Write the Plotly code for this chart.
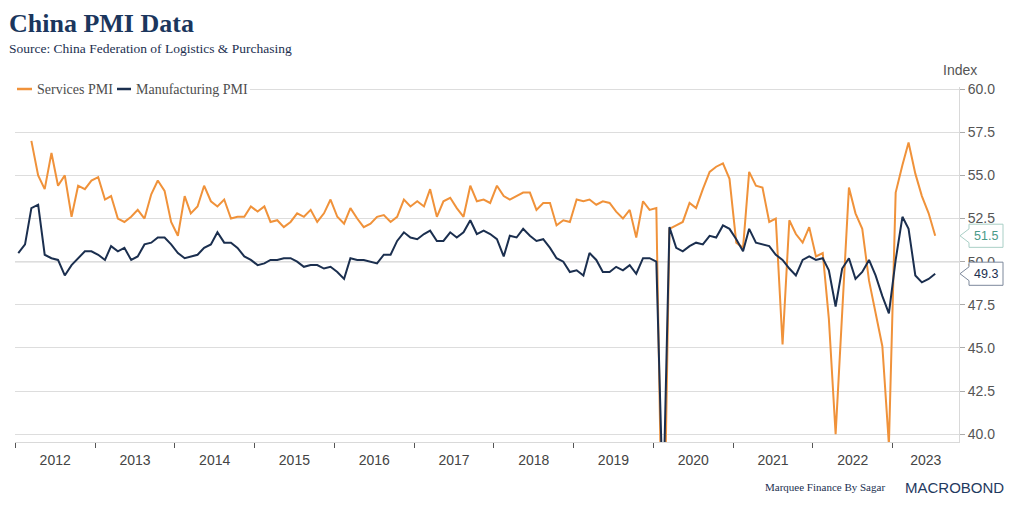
import pandas as pd
import plotly.graph_objects as go

# ---------------- data ----------------
months = pd.date_range("2012-01-01", "2023-07-01", freq="MS") + pd.Timedelta(days=14)

manufacturing_pmi = [
    50.5, 51.0, 53.1, 53.3, 50.4, 50.2, 50.1, 49.2, 49.8, 50.2, 50.6, 50.6,  # 2012
    50.4, 50.1, 50.9, 50.6, 50.8, 50.1, 50.3, 51.0, 51.1, 51.4, 51.4, 51.0,  # 2013
    50.5, 50.2, 50.3, 50.4, 50.8, 51.0, 51.7, 51.1, 51.1, 50.8, 50.3, 50.1,  # 2014
    49.8, 49.9, 50.1, 50.1, 50.2, 50.2, 50.0, 49.7, 49.8, 49.8, 49.6, 49.7,  # 2015
    49.4, 49.0, 50.2, 50.1, 50.1, 50.0, 49.9, 50.4, 50.4, 51.2, 51.7, 51.4,  # 2016
    51.3, 51.6, 51.8, 51.2, 51.2, 51.7, 51.4, 51.7, 52.4, 51.6, 51.8, 51.6,  # 2017
    51.3, 50.3, 51.5, 51.4, 51.9, 51.5, 51.2, 51.3, 50.8, 50.2, 50.0, 49.4,  # 2018
    49.5, 49.2, 50.5, 50.1, 49.4, 49.4, 49.7, 49.5, 49.8, 49.3, 50.2, 50.2,  # 2019
    50.0, 35.7, 52.0, 50.8, 50.6, 50.9, 51.1, 51.0, 51.5, 51.4, 52.1, 51.9,  # 2020
    51.3, 50.6, 51.9, 51.1, 51.0, 50.9, 50.4, 50.1, 49.6, 49.2, 50.1, 50.3,  # 2021
    50.1, 50.2, 49.5, 47.4, 49.6, 50.2, 49.0, 49.4, 50.1, 49.2, 48.0, 47.0,  # 2022
    50.1, 52.6, 51.9, 49.2, 48.8, 49.0, 49.3,                                # 2023
]

services_pmi = [
    None, None, 57.0, 55.0, 54.2, 56.3, 54.4, 55.0, 52.6, 54.4, 54.2, 54.7,  # 2012
    54.9, 53.6, 53.8, 52.5, 52.3, 52.6, 53.0, 52.5, 53.9, 54.7, 54.1, 52.3,  # 2013
    51.5, 53.8, 52.8, 53.2, 54.4, 53.5, 53.2, 53.6, 52.5, 52.6, 52.6, 53.2,  # 2014
    52.9, 53.2, 52.3, 52.4, 52.0, 52.3, 52.8, 52.6, 53.0, 52.3, 52.8, 53.6,  # 2015
    52.6, 52.2, 53.1, 52.5, 52.0, 52.2, 52.6, 52.7, 52.3, 52.6, 53.6, 53.2,  # 2016
    53.5, 53.2, 54.2, 52.6, 53.5, 53.7, 53.1, 52.6, 54.4, 53.5, 53.6, 53.4,  # 2017
    54.4, 53.8, 53.6, 53.8, 54.0, 54.0, 53.0, 53.4, 53.4, 52.1, 52.4, 52.3,  # 2018
    53.6, 53.5, 53.6, 53.3, 53.5, 53.4, 52.9, 52.5, 53.0, 51.4, 53.5, 53.0,  # 2019
    53.1, 30.1, 51.9, 52.1, 52.3, 53.4, 53.1, 54.2, 55.2, 55.5, 55.7, 54.8,  # 2020
    51.1, 50.8, 55.2, 54.4, 54.3, 52.3, 52.5, 45.2, 52.4, 51.6, 51.1, 52.0,  # 2021
    50.3, 50.5, 46.7, 40.0, 47.1, 54.3, 52.8, 51.9, 48.9, 47.0, 45.1, 39.4,  # 2022
    54.0, 55.6, 56.9, 55.1, 53.8, 52.8, 51.5,                                # 2023
]

years = list(range(2012, 2024))
y_ticks = [40.0, 42.5, 45.0, 47.5, 50.0, 52.5, 55.0, 57.5, 60.0]

# ---------------- style ----------------
ORANGE = "#F0923A"
NAVY = "#1B2F4F"
TEAL = "#4A9A88"
SERIF = "Liberation Serif, Times New Roman, serif"
SANS = "Liberation Sans, Arial, sans-serif"

# the page body adds an 8px offset; the figure is sized to fit the window
OFF = 8
W, H = 996, 490
ML, MT = 15 - OFF, 87 - OFF
MR = W - (959 - OFF)
MB = H - (442 - OFF)
PW, PH = W - ML - MR, H - MT - MB
x_range = [pd.Timestamp("2011-12-31"), pd.Timestamp("2023-11-01")]
y_range = [39.55, 60.12]


def px2x(px):
    """screen pixel x -> paper x"""
    return (px - OFF - ML) / PW


def py2y(py):
    """screen pixel y -> paper y"""
    return (H - MB - (py - OFF)) / PH


fig = go.Figure()
fig.add_trace(go.Scatter(x=months, y=services_pmi, mode="lines", name="Services PMI",
                         line=dict(color=ORANGE, width=2), connectgaps=False, showlegend=False))
fig.add_trace(go.Scatter(x=months, y=manufacturing_pmi, mode="lines", name="Manufacturing PMI",
                         line=dict(color=NAVY, width=2), showlegend=False))

# year label positions: centre of the visible part of each year
label_pos, label_txt = [], []
for yr in years:
    s = max(pd.Timestamp(f"{yr}-01-01"), x_range[0])
    e = min(pd.Timestamp(f"{yr + 1}-01-01"), x_range[1])
    label_pos.append(s + (e - s) / 2)
    label_txt.append(str(yr))

shapes = []
annotations = []

# 50 reference line
shapes.append(dict(type="line", xref="paper", yref="y", x0=0, x1=1, y0=50, y1=50,
                   line=dict(color="#6b6b6b", width=1), layer="between"))

# custom legend (white box covers the top gridline)
shapes.append(dict(type="rect", xref="paper", yref="paper", x0=px2x(15), x1=px2x(250),
                   y0=py2y(98), y1=py2y(80), fillcolor="white", line=dict(width=0), layer="above"))
shapes.append(dict(type="line", xref="paper", yref="paper", x0=px2x(17), x1=px2x(32),
                   y0=py2y(89), y1=py2y(89), line=dict(color=ORANGE, width=2.5), layer="above"))
shapes.append(dict(type="line", xref="paper", yref="paper", x0=px2x(117), x1=px2x(131),
                   y0=py2y(89), y1=py2y(89), line=dict(color=NAVY, width=2.5), layer="above"))
annotations.append(dict(xref="paper", yref="paper", x=px2x(35), y=py2y(89), text="Services PMI",
                        showarrow=False, xanchor="left", yanchor="middle",
                        font=dict(family=SERIF, size=14, color="#4d4d4d")))
annotations.append(dict(xref="paper", yref="paper", x=px2x(134), y=py2y(89), text="Manufacturing PMI",
                        showarrow=False, xanchor="left", yanchor="middle",
                        font=dict(family=SERIF, size=14, color="#4d4d4d")))


# last-value tags
def tag(value, text_color, border_color):
    xt, xb0, xb1 = px2x(960), px2x(969), px2x(1003)
    h, n = 0.67, 0.4
    path = (f"M {xt},{value} L {xb0},{value + n} L {xb0},{value + h} L {xb1},{value + h} "
            f"L {xb1},{value - h} L {xb0},{value - h} L {xb0},{value - n} Z")
    shapes.append(dict(type="path", xref="paper", yref="y", path=path, fillcolor="white",
                       line=dict(color=border_color, width=1), layer="above"))
    annotations.append(dict(xref="paper", yref="y", x=px2x(986), y=value, text=f"{value:.1f}",
                            showarrow=False, xanchor="center", yanchor="middle",
                            font=dict(family=SANS, size=12.5, color=text_color)))


tag(services_pmi[-1], TEAL, "#A9CFC6")
tag(manufacturing_pmi[-1], NAVY, "#7C889B")

# titles and footer
annotations.append(dict(xref="paper", yref="paper", x=px2x(7), y=py2y(23), text="<b>China PMI Data</b>",
                        showarrow=False, xanchor="left", yanchor="middle",
                        font=dict(family=SERIF, size=26, color="#1B365D")))
annotations.append(dict(xref="paper", yref="paper", x=px2x(7), y=py2y(49),
                        text="Source: China Federation of Logistics &amp; Purchasing",
                        showarrow=False, xanchor="left", yanchor="middle",
                        font=dict(family=SERIF, size=13.5, color="#1B2F4F")))
annotations.append(dict(xref="paper", yref="paper", x=px2x(960), y=py2y(70), text="Index",
                        showarrow=False, xanchor="center", yanchor="middle",
                        font=dict(family=SANS, size=14, color="#555555")))
annotations.append(dict(xref="paper", yref="paper", x=px2x(825), y=py2y(487),
                        text="Marquee Finance By Sagar", showarrow=False, xanchor="center",
                        yanchor="middle", font=dict(family=SERIF, size=11, color="#1B2F4F")))
annotations.append(dict(xref="paper", yref="paper", x=px2x(954), y=py2y(487), text="MACROBOND",
                        showarrow=False, xanchor="center", yanchor="middle",
                        font=dict(family=SANS, size=15, color="#1F3A5F")))

fig.update_layout(
    width=W, height=H,
    margin=dict(l=ML, r=MR, t=MT, b=MB, autoexpand=False),
    paper_bgcolor="white", plot_bgcolor="white",
    showlegend=False,
    shapes=shapes, annotations=annotations,
    xaxis=dict(
        type="date", range=x_range, showgrid=False, zeroline=False,
        showline=True, linecolor="#d9d9d9", linewidth=1,
        tickmode="array", tickvals=label_pos, ticktext=label_txt,
        ticks="outside", ticklen=5, tickcolor="rgba(0,0,0,0)",
        tickfont=dict(family=SANS, size=14, color="#444444"),
        minor=dict(dtick="M12", tick0="2012-01-01", ticks="outside", ticklen=5,
                   tickcolor="#555555", showgrid=False),
    ),
    yaxis=dict(
        side="right", range=y_range, tickmode="array", tickvals=y_ticks,
        ticktext=[f"{v:.1f}" for v in y_ticks],
        showgrid=True, gridcolor="#dddddd", gridwidth=1, zeroline=False,
        showline=True, linecolor="#d9d9d9", linewidth=1,
        ticks="outside", ticklen=5, tickcolor="#aaaaaa",
        tickfont=dict(family=SANS, size=14, color="#555555"),
    ),
)

fig.write_html("out.html")
